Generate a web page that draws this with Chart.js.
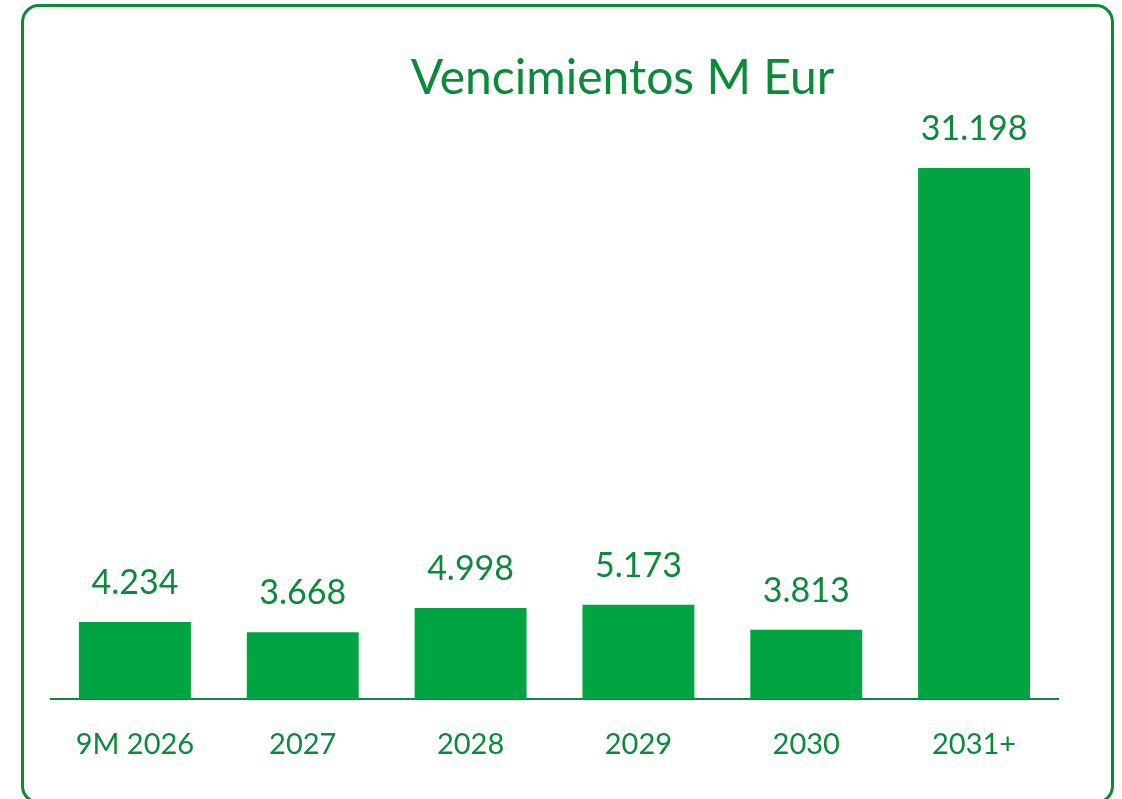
<!DOCTYPE html>
<html>
<head>
<meta charset="utf-8">
<script src="https://cdn.jsdelivr.net/npm/chart.js@4.4.1/dist/chart.umd.min.js"></script>
<style>
  html, body { margin: 0; padding: 0; background: #ffffff; overflow: hidden; }
  #wrap { position: relative; width: 1122px; height: 799px; }
  #frame {
    position: absolute; left: 21px; top: 4px; width: 1093px; height: 800px;
    border: 3px solid #0b8a3b; border-radius: 18px; box-sizing: border-box;
  }
  #c { position: absolute; left: 0; top: 0; }
</style>
</head>
<body>
<div id="wrap">
  <div id="frame"></div>
  <canvas id="c" width="1122" height="799"></canvas>
</div>
<script>
const titleText = "Vencimientos M Eur";
const categories = ["9M 2026", "2027", "2028", "2029", "2030", "2031+"];
const values = [4234, 3668, 4998, 5173, 3813, 31198];
const valueLabels = ["4.234", "3.668", "4.998", "5.173", "3.813", "31.198"];

const GREEN_BAR = "#00a443";
const GREEN_TEXT = "#0b8a3b";
const FONT = "Lato, 'Open Sans', sans-serif";

const labelPlugin = {
  id: "valueLabels",
  afterDatasetsDraw(chart) {
    const ctx = chart.ctx;
    const meta = chart.getDatasetMeta(0);
    const area = chart.chartArea;
    ctx.save();
    ctx.fillStyle = GREEN_TEXT;
    ctx.font = "34px " + FONT;
    ctx.textAlign = "center";
    ctx.textBaseline = "middle";
    meta.data.forEach((bar, i) => {
      const top = Math.max(bar.y, area.top);
      ctx.fillText(valueLabels[i], bar.x, top - 39);
    });
    // title
    ctx.font = "48px " + FONT;
    ctx.fillText(titleText, (area.left + area.right) / 2 + 68, 79);
    ctx.restore();
  }
};

new Chart(document.getElementById("c"), {
  type: "bar",
  data: {
    labels: categories,
    datasets: [{
      data: values,
      backgroundColor: GREEN_BAR,
      borderWidth: 0,
      barPercentage: 0.667,
      categoryPercentage: 1.0
    }]
  },
  options: {
    responsive: false,
    animation: false,
    devicePixelRatio: 1,
    layout: { padding: { left: 51, right: 64, top: 168, bottom: 9 } },
    plugins: {
      legend: { display: false },
      title: { display: false },
      tooltip: { enabled: false }
    },
    scales: {
      x: {
        grid: { display: false, drawTicks: false },
        border: { display: true, color: GREEN_TEXT, width: 2 },
        ticks: { color: GREEN_TEXT, font: { family: FONT, size: 29 }, padding: 28 }
      },
      y: {
        display: false,
        min: 0,
        max: 29120,
        grid: { display: false }
      }
    }
  },
  plugins: [labelPlugin]
});
</script>
</body>
</html>
